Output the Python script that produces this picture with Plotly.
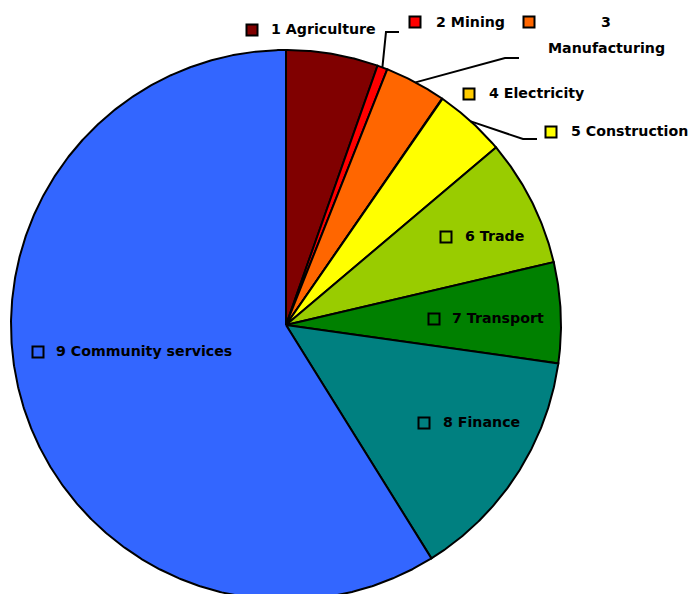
import numpy as np
import plotly.graph_objects as go

# Share of output by sector (%)
sectors = ["1 Agriculture", "2 Mining", "3 Manufacturing", "4 Electricity",
           "5 Construction", "6 Trade", "7 Transport", "8 Finance",
           "9 Community services"]
shares = [5.4, 0.6, 3.6, 0.03, 4.2, 7.5, 5.9, 13.9, 58.87]
colors = ["#800000", "#FF0000", "#FF6600", "#FFCC00", "#FFFF00",
          "#99CC00", "#008000", "#008080", "#3366FF"]

R = 275.0  # pie radius in axis units (1 unit = 1 px)
FONT = dict(family="DejaVu Sans, Verdana, sans-serif", size=14.2, color="#000000")


def to_xy(deg, r=R):
    """Clockwise angle from 12 o'clock -> cartesian point."""
    a = np.radians(deg)
    return r * np.sin(a), r * np.cos(a)


fig = go.Figure()

total = float(sum(shares))
edges = np.concatenate([[0.0], np.cumsum(shares) / total * 360.0])
mids = (edges[:-1] + edges[1:]) / 2

for name, a0, a1, col in zip(sectors, edges[:-1], edges[1:], colors):
    n = max(int((a1 - a0) * 3), 2)
    ang = np.linspace(a0, a1, n)
    ax, ay = to_xy(ang)
    xs = np.concatenate([[0.0], ax, [0.0]])
    ys = np.concatenate([[0.0], ay, [0.0]])
    fig.add_trace(go.Scatter(
        x=xs, y=ys, mode="lines", fill="toself", fillcolor=col,
        line=dict(color="#000000", width=2), name=name,
        hoverinfo="name", showlegend=False))

# Label placement: (square centre x, y, text left x, text y) in px
label_pos = {
    "1 Agriculture": (252, 30, 269, 29),
    "2 Mining": (415, 22, 434, 22),
    "4 Electricity": (469, 94, 487, 93),
    "5 Construction": (551, 132, 569, 131),
    "6 Trade": (446, 237, 463, 236),
    "7 Transport": (434, 319, 450, 318),
    "8 Finance": (424, 423, 441, 422),
    "9 Community services": (38, 352, 54, 351),
}

CX, CY = 286, 325  # pie centre on the canvas


def px(x, y):
    return x - CX, CY - y


shapes = []
annotations = []
for name, col in zip(sectors, colors):
    if name == "3 Manufacturing":
        sq = (529, 22)
        tx, ty = px(606, 22)
        annotations.append(dict(x=tx, y=ty, text="<b>3</b>", showarrow=False,
                                xanchor="center", yanchor="middle", font=FONT))
        tx, ty = px(606, 48)
        annotations.append(dict(x=tx, y=ty, text="<b>Manufacturing</b>",
                                showarrow=False, xanchor="center",
                                yanchor="middle", font=FONT))
    else:
        sx, sy, lx, ly = label_pos[name]
        sq = (sx, sy)
        tx, ty = px(lx, ly)
        annotations.append(dict(x=tx, y=ty, text="<b>" + name + "</b>",
                                showarrow=False, xanchor="left",
                                yanchor="middle", font=FONT))
    qx, qy = px(*sq)
    shapes.append(dict(type="rect", x0=qx - 5.5, x1=qx + 5.5,
                       y0=qy - 5.5, y1=qy + 5.5, fillcolor=col,
                       line=dict(color="#000000", width=2)))

# Leader lines from slice rims to the outside labels
leaders = {
    1: [(386, 32), (399, 32)],
    2: [(505, 58), (519, 58)],
    4: [(523, 139), (537, 139)],
}
for idx, pts in leaders.items():
    rx, ry = to_xy(mids[idx])
    xs = [rx] + [px(*p)[0] for p in pts]
    ys = [ry] + [px(*p)[1] for p in pts]
    fig.add_trace(go.Scatter(x=xs, y=ys, mode="lines",
                             line=dict(color="#000000", width=2),
                             hoverinfo="skip", showlegend=False))

fig.update_layout(
    width=692, height=594,
    margin=dict(l=0, r=0, t=0, b=0),
    paper_bgcolor="#FFFFFF", plot_bgcolor="#FFFFFF",
    showlegend=False,
    xaxis=dict(range=[-CX, 692 - CX], visible=False, fixedrange=True),
    yaxis=dict(range=[CY - 594, CY], visible=False, fixedrange=True),
    shapes=shapes,
    annotations=annotations,
)

fig.write_html("out.html")
